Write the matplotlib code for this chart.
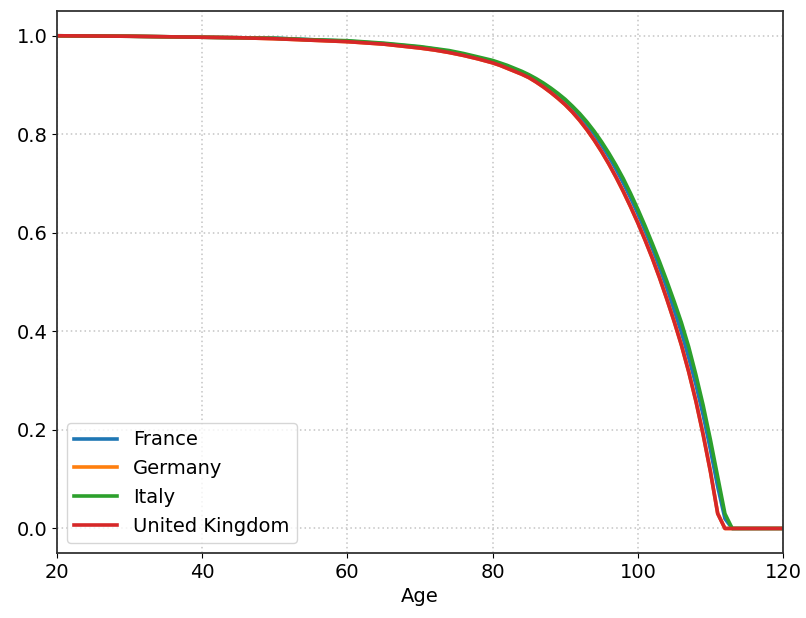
import numpy as np
import matplotlib
matplotlib.use("Agg")
import matplotlib.pyplot as plt

# survival curves
ages = [20, 25, 30, 35, 40, 45, 50, 55, 60, 65, 70, 72, 74, 76, 78,
        80, 81, 82, 83, 84, 85, 86, 87, 88, 89, 90, 91, 92, 93, 94, 95, 96, 97, 98, 99,
        100, 101, 102, 103, 104, 105, 106, 107, 108, 109, 110, 111, 112, 113, 120]

france = [1.0, 0.9995, 0.999, 0.998, 0.997, 0.996, 0.995, 0.992, 0.989, 0.984, 0.977,
          0.973, 0.968, 0.962, 0.955,
          0.948, 0.943, 0.938, 0.932, 0.926, 0.919, 0.911, 0.901, 0.891, 0.880, 0.867, 0.853,
          0.837, 0.820, 0.800, 0.778, 0.755, 0.729, 0.701, 0.671,
          0.639, 0.604, 0.568, 0.529, 0.488, 0.443, 0.398, 0.347, 0.292, 0.230, 0.160, 0.085,
          0.020, 0.0, 0.0]
germany = [1.0, 0.9995, 0.999, 0.998, 0.997, 0.996, 0.994, 0.991, 0.988, 0.983, 0.975,
           0.971, 0.966, 0.960, 0.953,
           0.945, 0.940, 0.934, 0.928, 0.922, 0.915, 0.906, 0.896, 0.885, 0.873, 0.860, 0.845,
           0.828, 0.809, 0.788, 0.765, 0.740, 0.713, 0.684, 0.653,
           0.621, 0.586, 0.549, 0.509, 0.466, 0.421, 0.373, 0.319, 0.259, 0.191, 0.116, 0.031,
           0.0, 0.0, 0.0]
italy = [1.0, 0.9995, 0.999, 0.998, 0.997, 0.996, 0.995, 0.992, 0.990, 0.985, 0.978,
         0.974, 0.970, 0.964, 0.957,
         0.950, 0.945, 0.940, 0.934, 0.928, 0.921, 0.913, 0.904, 0.894, 0.883, 0.871, 0.857,
         0.842, 0.825, 0.806, 0.785, 0.762, 0.737, 0.710, 0.680,
         0.648, 0.614, 0.578, 0.541, 0.502, 0.461, 0.418, 0.369, 0.312, 0.250, 0.180, 0.105,
         0.030, 0.0, 0.0]
uk = [1.0, 0.9995, 0.999, 0.998, 0.997, 0.996, 0.994, 0.991, 0.988, 0.983, 0.975,
      0.971, 0.966, 0.960, 0.953,
      0.945, 0.940, 0.934, 0.928, 0.922, 0.915, 0.906, 0.896, 0.885, 0.873, 0.860, 0.845,
      0.828, 0.809, 0.788, 0.765, 0.740, 0.713, 0.684, 0.653,
      0.620, 0.585, 0.548, 0.508, 0.465, 0.420, 0.372, 0.318, 0.258, 0.190, 0.115, 0.030,
      0.0, 0.0, 0.0]

countries = ["France", "Germany", "Italy", "United Kingdom"]
series = [france, germany, italy, uk]

plt.rcParams['font.size'] = 14
fig = plt.figure(figsize=(8.06, 6.18), dpi=100)
ax = fig.add_axes([0.0707, 0.105, 0.9008, 0.877])

for name, vals in zip(countries, series):
    ax.plot(ages, vals, label=name, linewidth=2.6)

ax.set_xlim(20, 120)
ax.set_ylim(-0.05, 1.05)
ax.set_xticks([20, 40, 60, 80, 100, 120])
ax.set_yticks([0.0, 0.2, 0.4, 0.6, 0.8, 1.0])
ax.set_xlabel("Age")
ax.grid(True, linestyle=(0, (1, 2)), color="#c4c4c4", linewidth=1.1)
for s in ax.spines.values():
    s.set_color("#333333")
    s.set_linewidth(1.3)
ax.legend(loc="lower left", fontsize=14, handlelength=2.2)

fig.savefig("out.png", dpi=100)
